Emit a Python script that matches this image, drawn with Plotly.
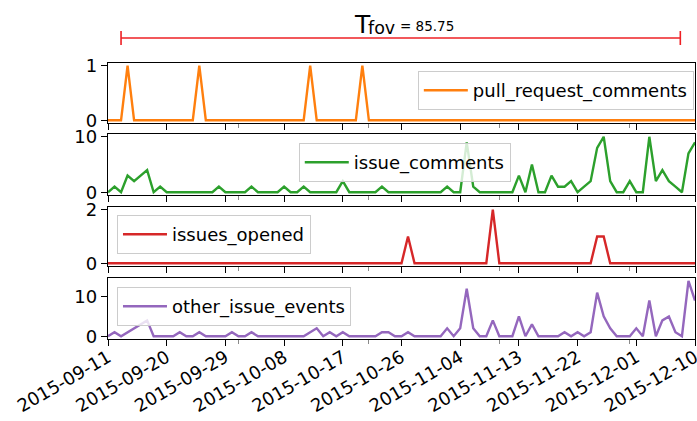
import pandas as pd
import plotly.graph_objects as go

# ---------------- data ----------------
start_date = "2015-09-11"
n_days = 91
dates = pd.date_range(start_date, periods=n_days, freq="D")
tick_dates = pd.date_range(start_date, "2015-12-10", freq="9D")
tick_labels = [d.strftime("%Y-%m-%d") for d in tick_dates]

pull_request_comments = [
    0, 0, 0, 1, 0, 0, 0, 0, 0, 0,
    0, 0, 0, 0, 1, 0, 0, 0, 0, 0,
    0, 0, 0, 0, 0, 0, 0, 0, 0, 0,
    0, 1, 0, 0, 0, 0, 0, 0, 0, 1,
    0, 0, 0, 0, 0, 0, 0, 0, 0, 0,
    0, 0, 0, 0, 0, 0, 0, 0, 0, 0,
    0, 0, 0, 0, 0, 0, 0, 0, 0, 0,
    0, 0, 0, 0, 0, 0, 0, 0, 0, 0,
    0, 0, 0, 0, 0, 0, 0, 0, 0, 0,
    0,
]
issue_comments = [
    0, 1, 0, 3, 2, 3, 4, 0, 1, 0,
    0, 0, 0, 0, 0, 0, 0, 1, 0, 0,
    0, 0, 1, 0, 0, 0, 0, 1, 0, 0,
    1, 0, 0, 0, 0, 0, 2, 0, 0, 0,
    0, 0, 1, 0, 0, 0, 0, 0, 0, 0,
    0, 0, 1, 0, 0, 9, 1, 0, 0, 0,
    0, 0, 0, 3, 0, 5, 0, 0, 3, 1,
    1, 2, 0, 1, 2, 8, 10, 2, 0, 0,
    2, 0, 0, 10, 2, 4, 2, 1, 0, 7,
    9,
]
issues_opened = [
    0, 0, 0, 0, 0, 0, 0, 0, 0, 0,
    0, 0, 0, 0, 0, 0, 0, 0, 0, 0,
    0, 0, 0, 0, 0, 0, 0, 0, 0, 0,
    0, 0, 0, 0, 0, 0, 0, 0, 0, 0,
    0, 0, 0, 0, 0, 0, 1, 0, 0, 0,
    0, 0, 0, 0, 0, 0, 0, 0, 0, 2,
    0, 0, 0, 0, 0, 0, 0, 0, 0, 0,
    0, 0, 0, 0, 0, 1, 1, 0, 0, 0,
    0, 0, 0, 0, 0, 0, 0, 0, 0, 0,
    0,
]
other_issue_events = [
    0, 1, 0, 1, 2, 3, 4, 0, 0, 0,
    0, 1, 0, 0, 1, 0, 0, 0, 0, 1,
    0, 0, 1, 0, 0, 0, 0, 0, 0, 0,
    0, 1, 2, 0, 1, 0, 1, 0, 0, 0,
    0, 0, 1, 1, 0, 0, 1, 0, 0, 0,
    0, 0, 2, 0, 2, 12, 2, 0, 0, 4,
    0, 0, 0, 5, 0, 3, 0, 0, 0, 0,
    1, 0, 1, 0, 1, 11, 5, 2, 0, 0,
    0, 2, 0, 9, 0, 4, 5, 1, 0, 14,
    9,
]

series_names = ["pull_request_comments", "issue_comments", "issues_opened", "other_issue_events"]
series_values = [pull_request_comments, issue_comments, issues_opened, other_issue_events]
series_colors = ["#ff7f0e", "#2ca02c", "#d62728", "#9467bd"]
y_ticks = [[0, 1], [0, 10], [0, 2], [0, 10]]

tfov_start = "2015-09-13"
tfov_days = 85.75

# ---------------- figure ----------------
FONT = "DejaVu Sans"
FS = 18
W, H = 697, 421
ML, MR, MT, MB = 108, 2, 63, 82
plot_h = H - MT - MB

# panel extents in pixels (top, bottom), from the top of the figure
panels_px = [(63, 123), (134, 195), (207, 266), (278, 339)]
domains = [[(339 - b) / plot_h, (339 - t) / plot_h] for t, b in panels_px]

legend_pos = [
    dict(x=0.998, y=0.971, xanchor="right"),
    dict(x=0.325, y=0.710, xanchor="left"),
    dict(x=0.0153, y=0.449, xanchor="left"),
    dict(x=0.0153, y=0.188, xanchor="left"),
]

fig = go.Figure()
layout = dict(
    width=W, height=H, autosize=False,
    margin=dict(l=ML, r=MR, t=MT, b=MB, autoexpand=False),
    paper_bgcolor="white", plot_bgcolor="white",
    font=dict(family=FONT, size=FS, color="black"),
    showlegend=True,
)

x_end = dates[-1] + pd.Timedelta(minutes=1)
x_range = [dates[0], x_end]
for i, (name, vals, col, yt) in enumerate(zip(series_names, series_values, series_colors, y_ticks)):
    k = "" if i == 0 else str(i + 1)
    lg = "legend" if i == 0 else f"legend{i + 1}"
    fig.add_trace(go.Scatter(
        x=dates, y=vals, mode="lines", name=name,
        line=dict(color=col, width=2.4),
        xaxis="x" + k, yaxis="y" + k, legend=lg,
        hoverinfo="skip",
    ))
    ymax = max(vals)
    pad = 0.05 * ymax
    layout["xaxis" + k] = dict(
        domain=[0, 1], anchor="y" + k, range=x_range, automargin=False,
        matches=None if i == 0 else "x",
        showline=True, mirror=True, linecolor="black", linewidth=1.3,
        ticks="outside", ticklen=6, tickwidth=1.3, tickcolor="black",
        tickvals=list(tick_dates), ticktext=tick_labels,
        showticklabels=(i == 3), tickangle=-30, ticklabeloverflow="allow",
        ticklabelstandoff=-6,
        tickfont=dict(family=FONT, size=FS),
        showgrid=False, zeroline=False,
        minor=dict(tick0="2015-10-01", dtick=20 * 86400000, ticklen=4,
                   tickcolor="#8a8a8a", tickwidth=1, ticks="outside"),
    )
    layout["yaxis" + k] = dict(
        domain=domains[i], anchor="x" + k, range=[-pad, ymax + pad], automargin=False,
        showline=True, mirror=True, linecolor="black", linewidth=1.3,
        ticks="outside", ticklen=6, tickwidth=1.3, tickcolor="black",
        tickvals=yt, tickfont=dict(family=FONT, size=FS),
        showgrid=False, zeroline=False,
    )
    layout[lg] = dict(
        xref="paper", yref="paper", yanchor="top",
        bgcolor="rgba(255,255,255,0.8)", bordercolor="#cccccc", borderwidth=1,
        font=dict(family=FONT, size=FS), itemwidth=44, tracegroupgap=0,
        **legend_pos[i],
    )

fig.update_layout(**layout)

# T_fov bar
t0 = pd.Timestamp(tfov_start)
t1 = t0 + pd.Timedelta(days=tfov_days)
tmid = t0 + (t1 - t0) / 2
bar_y = 1 + (MT - 38) / plot_h
cap_top = 1 + (MT - 31) / plot_h
cap_bot = 1 + (MT - 45) / plot_h
red = "#ee2024"
fmt = "%Y-%m-%d %H:%M:%S"
for a, b, c, d in [
    (t0, t1, bar_y, bar_y),
    (t0, t0, cap_bot, cap_top),
    (t1, t1, cap_bot, cap_top),
]:
    fig.add_shape(type="line", xref="x", yref="paper", line=dict(color=red, width=1.6),
                  x0=a.strftime(fmt), x1=b.strftime(fmt), y0=c, y1=d)

def py(px):
    return 1 + (MT - px) / plot_h

for txt, size, xs, ycen in [
    ("T", 25, -48, 24.5),
    ("fov", 17.5, -34, 28),
    ("= %.2f" % tfov_days, 13.5, -2, 26),
]:
    fig.add_annotation(
        xref="x", yref="paper", x=tmid.strftime(fmt), y=py(ycen),
        xanchor="left", yanchor="middle", xshift=xs, showarrow=False,
        text=txt, borderpad=0,
        font=dict(family=FONT, size=size, color="black"),
    )

fig.write_html(
    "out.html",
    config={"displayModeBar": False},
    post_script="document.body.style.margin='0';document.body.style.overflow='hidden';",
)
